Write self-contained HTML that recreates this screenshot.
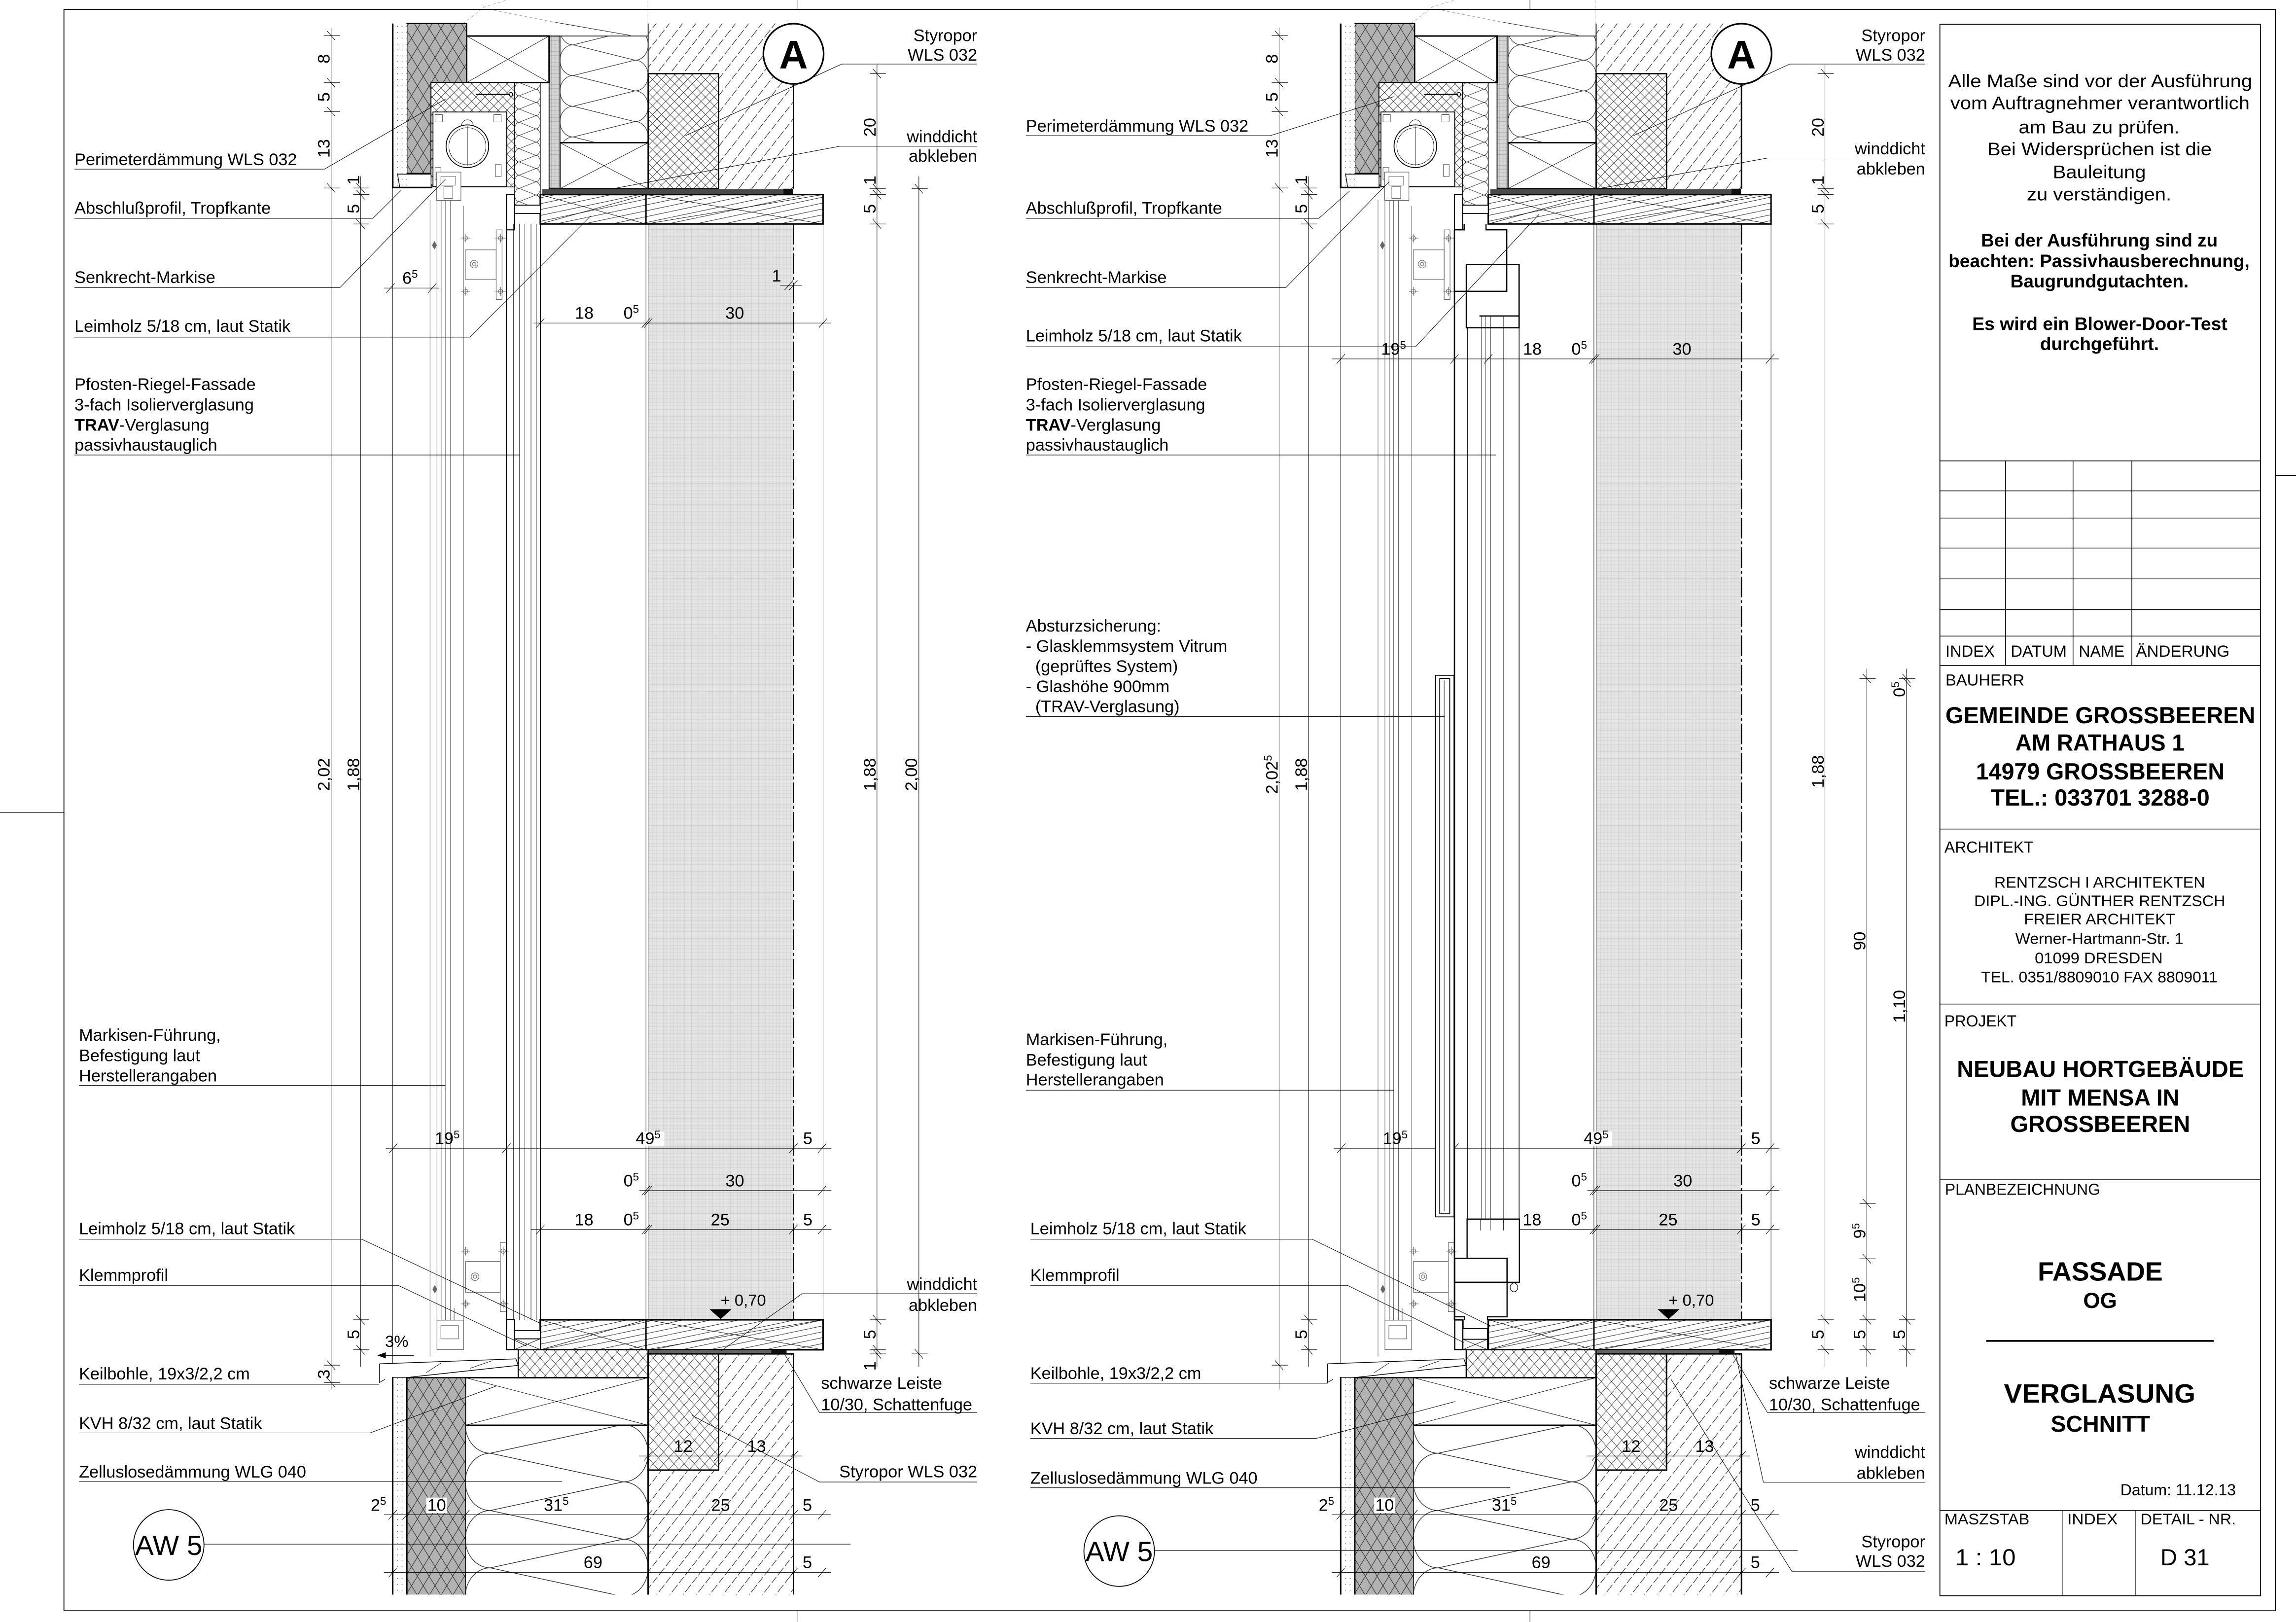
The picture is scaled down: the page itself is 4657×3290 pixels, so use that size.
<!DOCTYPE html>
<html><head><meta charset="utf-8"><style>
html,body{margin:0;padding:0;background:#fff;}
svg{display:block;}
text{font-family:"Liberation Sans",Arial,sans-serif;fill:#000;}
</style></head><body>
<svg xmlns="http://www.w3.org/2000/svg" xmlns:xlink="http://www.w3.org/1999/xlink" width="4657" height="3290" viewBox="0 0 1562.2 1103.65" preserveAspectRatio="none">
<defs>
<pattern id="conc" patternUnits="userSpaceOnUse" width="9" height="11.5"><path d="M-1,12.78L10,-1.28" stroke="#222" stroke-width="0.4" stroke-dasharray="5 1.6" fill="none"/></pattern>
<pattern id="xh" patternUnits="userSpaceOnUse" width="6" height="6"><rect width="6" height="6" fill="#fff"/><path d="M0,0L6,6M6,0L0,6" stroke="#222" stroke-width="0.3"/></pattern>
<pattern id="xh2" patternUnits="userSpaceOnUse" width="7" height="8"><rect width="7" height="8" fill="#fff"/><path d="M0,0L7,8M7,0L0,8" stroke="#222" stroke-width="0.3"/></pattern>
<pattern id="gb" patternUnits="userSpaceOnUse" width="8" height="13"><rect width="8" height="13" fill="#b2b2b2"/><path d="M0,0L8,13M8,0L0,13" stroke="#222" stroke-width="0.35"/></pattern>
<pattern id="dots" patternUnits="userSpaceOnUse" width="3.2" height="4"><rect width="3.2" height="4" fill="#fff"/><circle cx="1.6" cy="2" r="0.3" fill="#444"/></pattern>
<pattern id="wood" patternUnits="userSpaceOnUse" width="19" height="4"><rect width="19" height="4" fill="#fff"/><path d="M-1,4.21L20,-0.21" stroke="#111" stroke-width="0.3"/></pattern>
<pattern id="gl" patternUnits="userSpaceOnUse" width="2.4" height="2.4"><rect width="2.4" height="2.4" fill="#e4e4e4"/><path d="M0,0.1H2.4M0.1,0V2.4" stroke="#cdcdcd" stroke-width="0.25"/></pattern>
<pattern id="grid" patternUnits="userSpaceOnUse" width="2.5" height="2.5"><rect width="2.5" height="2.5" fill="#d4d4d4"/><path d="M0,0.1H2.5M0.1,0V2.5" stroke="#999" stroke-width="0.25"/></pattern>
<pattern id="ins1" patternUnits="userSpaceOnUse" x="381" y="9.6" width="60" height="20.9"><path d="M9,0L51,10.45L9,20.9M9,0A9,10.45 0 0 0 9,20.9M51,10.45A9,10.45 0 0 1 60,20.9M60,0A9,10.45 0 0 1 51,10.45" fill="none" stroke="#111" stroke-width="0.35"/></pattern>
<pattern id="ins2" patternUnits="userSpaceOnUse" x="316.6" y="949.8" width="124.4" height="39"><path d="M17,0L107.4,19.5L17,39M17,0A17,19.5 0 0 0 17,39M107.4,19.5A17,19.5 0 0 1 124.4,39M124.4,0A17,19.5 0 0 1 107.4,19.5" fill="none" stroke="#111" stroke-width="0.4"/></pattern>
<pattern id="ins3" patternUnits="userSpaceOnUse" x="350.2" y="56.2" width="17.4" height="9"><path d="M3,0L14.4,4.5L3,9M3,0A3,4.5 0 0 0 3,9M14.4,4.5A3,4.5 0 0 1 17.4,9M17.4,0A3,4.5 0 0 1 14.4,4.5" fill="none" stroke="#111" stroke-width="0.3"/></pattern>
</defs>
<rect x="0" y="0" width="1562.2" height="1103.65" fill="#fff"/>

<!-- COMMON DETAIL GEOMETRY (left coordinates) -->
<g id="cm" fill="none" stroke="#000">
 <rect x="441" y="152.4" width="98.9" height="745.6" fill="url(#gl)" stroke="none"/>
 <path d="M440.3,0V16M315,16L330,4.5L345,0M332.8,6.4L378,15.2" stroke="#999" stroke-width="0.3" stroke-dasharray="2 1.5"/>
 <path d="M378,15.2L428.9,24.1" stroke-width="0.3"/>
 <rect x="441" y="16" width="98.9" height="112.4" fill="url(#conc)" stroke="none"/>
 <rect x="441" y="50.1" width="47.9" height="78.3" fill="url(#xh)" stroke-width="0.9"/>
 <path d="M539.9,57V128.4" stroke-width="1"/>
 <path d="M441,16V128.4" stroke-width="0.6"/>
 <rect x="381" y="24.5" width="60" height="72.6" fill="url(#ins1)" stroke-width="0.5"/>
 <rect x="381" y="97.1" width="60" height="31.3" fill="#fff" stroke-width="0.9"/>
 <path d="M381,97.1L441,128.4M441,97.1L381,128.4" stroke-width="0.3"/>
 <rect x="373.6" y="24.5" width="7.4" height="103.9" fill="url(#grid)" stroke-width="0.6"/>
 <rect x="317.5" y="24.5" width="56.1" height="31.7" fill="#fff" stroke-width="1"/>
 <path d="M317.5,24.5L373.6,56.2M373.6,24.5L317.5,56.2" stroke-width="0.3"/>
 <path d="M276.8,16H317.5V56.2H293.3V118H276.8Z" fill="url(#gb)" stroke-width="0.8"/>
 <rect x="267.2" y="16" width="9.6" height="111.6" fill="url(#dots)" stroke="none"/>
 <path d="M270.5,118.5H293.3M270.5,118.5L272,127.6" stroke-width="0.5"/>
 <path d="M267.2,16V127.6H294" stroke-width="1.1"/>
 <rect x="293.3" y="56.2" width="56.9" height="71" fill="url(#xh)" stroke-width="0.5"/>
 <rect x="294.6" y="76.2" width="50.2" height="50.8" fill="#fff" stroke-width="0.6"/>
 <circle cx="318" cy="99.5" r="14.5" stroke-width="0.6"/>
 <circle cx="318" cy="99.5" r="12.6" stroke-width="0.3"/>
 <path d="M314,85.5A4,4 0 0 1 322,85.5M318,86V113" stroke-width="0.3"/>
 <path d="M296,78h5v5h-5zM336,78h5v5h-5zM296,114h4v8h-4zM337,112h4v8h-4z" stroke="#444" stroke-width="0.35"/>
 <path d="M324,64.2H347" stroke-width="0.8"/>
 <circle cx="347.5" cy="64.2" r="1.3" stroke-width="0.5"/>
 <rect x="350.2" y="56.2" width="17.4" height="83.4" fill="url(#ins3)" stroke-width="0.5"/>
 <rect x="369" y="128.7" width="164" height="3.4" fill="#4a4a4a" stroke="none"/>
 <rect x="533" y="128.4" width="6.5" height="4" fill="#111" stroke="none"/>
 <rect x="367.6" y="132.4" width="192.4" height="20" fill="url(#wood)" stroke-width="1"/>
 <path d="M439.5,132.4V152.4" stroke-width="1"/>
 <path d="M367.6,132.4L439.5,152.4M367.6,152.4L439.5,132.4M439.5,132.4L560,152.4M439.5,152.4L560,132.4" stroke-width="0.3"/>
 <rect x="344.6" y="132.4" width="5.6" height="24" fill="#fff" stroke-width="0.7"/>
 <rect x="350.2" y="139.6" width="17.4" height="5.6" fill="#fff" stroke-width="0.6"/>
 <path d="M539.9,152.4V898" stroke-width="0.9" stroke-dasharray="14 2 2 2"/>
 <path d="M539.9,16V57" stroke-width="0.3" stroke-dasharray="3 2"/>
 <path d="M439.5,152.4V898M441,152.4V898M560,152.4V898M267.2,127.6V928.9" stroke-width="0.3"/>
 <path d="M292.6,136V923M297.3,128V898M300.6,128V898M303.2,128V898M306.5,128V898M315.4,140V918" stroke="#555" stroke-width="0.3"/>
 <rect x="297.1" y="117.1" width="16.5" height="19.3" stroke="#666" stroke-width="0.4" fill="#fff"/>
 <path d="M300,120h10v6h-10zM302,127h6v8h-6z" stroke="#666" stroke-width="0.35"/>
 <g stroke="#666" stroke-width="0.4">
  <rect x="337.6" y="156.4" width="4" height="47.4"/>
  <rect x="316.6" y="170" width="21" height="20"/>
  <circle cx="322.6" cy="179.7" r="2.6"/><circle cx="322.6" cy="179.7" r="1.2"/>
  <path d="M313.6,162H320M316.6,159V165M313.6,198.2H320M316.6,195.2V201.2M337,162H344.5M340.6,159V165M337,198.2H344.5M340.6,195.2V201.2"/>
  <circle cx="316.6" cy="162" r="1.5"/><circle cx="316.6" cy="198.2" r="1.5"/><circle cx="340.6" cy="162" r="1.5"/><circle cx="340.6" cy="198.2" r="1.5"/>
  <path d="M295.6,164.4L297,166.9L295.6,169.4L294.2,166.9Z" fill="#666"/>
  <rect x="340.4" y="845.4" width="4" height="47.1"/>
  <rect x="316.8" y="858.3" width="23.6" height="21.2"/>
  <circle cx="323.2" cy="868.7" r="2.6"/><circle cx="323.2" cy="868.7" r="1.2"/>
  <path d="M313.8,851.3H320M316.8,848.3V854.3M313.8,887.2H320M316.8,884.2V890.2M339,851.3H346M342.4,848.3V854.3M339,887.2H346M342.4,884.2V890.2"/>
  <circle cx="316.8" cy="851.3" r="1.5"/><circle cx="316.8" cy="887.2" r="1.5"/><circle cx="342.4" cy="851.3" r="1.5"/><circle cx="342.4" cy="887.2" r="1.5"/>
  <path d="M295.9,874.7L297.3,877.2L295.9,879.7L294.5,877.2Z" fill="#666"/>
  <rect x="297.3" y="898.3" width="18.1" height="20"/>
  <rect x="300" y="902" width="12" height="9"/>
  <path d="M303,890V898M309,890V898"/>
 </g>
 <rect x="367.6" y="898" width="192.4" height="20.4" fill="url(#wood)" stroke-width="1.1"/>
 <path d="M439.5,898V918.4" stroke-width="1"/>
 <path d="M367.6,898L439.5,918.4M367.6,918.4L439.5,898M439.5,898L560,918.4M439.5,918.4L560,898" stroke-width="0.3"/>
 <path d="M371,920.3H441" stroke-width="1" stroke-dasharray="3 1.5"/>
 <rect x="441" y="918.6" width="84" height="2.4" fill="#666" stroke="none"/>
 <rect x="524.8" y="918.4" width="10.4" height="2.8" fill="#111" stroke="none"/>
 <rect x="352.6" y="918.4" width="88.4" height="19" fill="url(#xh2)" stroke-width="0.8"/>
 <rect x="316.6" y="937.4" width="124.4" height="32.4" fill="#fff" stroke-width="1"/>
 <path d="M316.6,937.4L441,969.8M441,937.4L316.6,969.8" stroke-width="0.3"/>
 <rect x="316.6" y="969.8" width="124.4" height="115.2" fill="url(#ins2)" stroke="none"/>
 <path d="M316.6,969.8V1085M441,969.8V1085M316.6,969.8H441" stroke-width="0.9"/>
 <rect x="276.8" y="937.4" width="39.8" height="147.6" fill="url(#gb)" stroke="none"/>
 <path d="M276.8,937.4H316.6" stroke-width="0.8"/>
 <rect x="267.2" y="928.9" width="9.6" height="156.1" fill="url(#dots)" stroke="none"/>
 <path d="M267.2,1085V928.9H276.8V1085" stroke-width="1"/>
 <rect x="441" y="921.2" width="98.9" height="163.8" fill="url(#conc)" stroke="none"/>
 <path d="M441,1085V921.2H539.9V1085" stroke-width="1"/>
 <rect x="441" y="921.2" width="47.9" height="79.1" fill="url(#xh2)" stroke-width="1"/>
 <path d="M258.2,928L351,924.6L352.6,929L277.7,937.2H267.2" fill="#fff" stroke-width="0.5"/>
 <path d="M290,934L300,927.5M320,931L335,925.8" stroke-width="0.3"/>
 <path d="M258.2,928V940.7L262,938.5" stroke-width="0.4"/>
 <circle cx="539.9" cy="36.6" r="20.5" fill="#fff" stroke-width="1.1"/>
 <path d="M482.8,890.8H497.8L490.3,897.6Z" fill="#000" stroke="none"/>
 <rect x="430" y="770" width="22" height="10" fill="#fff" stroke="none"/>
 <rect x="290" y="1019" width="14" height="10.5" fill="#fff" stroke="none"/>
 <!-- leaders common -->
 <path d="M664.9,43.6H572.7L466.4,92.3M664.9,961.2H557.6L533.7,921.2" stroke-width="0.35"/>
 <!-- common dims -->
 <g stroke-width="0.35">
  <path d="M225.3,18.8V945.5M222.5,21L228.1,27.4M220.3,24.2H231.3M222.5,53.1L228.1,59.5M220.3,56.3H231.3M222.5,72.7L228.1,79.1M220.3,75.9H231.3M222.5,124.7L228.1,131.1M220.3,127.9H231.3M222.5,925.7L228.1,932.1M220.3,928.9H231.3"/>
  <path d="M245.3,120V930M242.5,124.7L248.1,131.1M240.3,127.9H251.3M242.5,129.2L248.1,135.6M240.3,132.4H251.3M242.5,149.2L248.1,155.6M240.3,152.4H251.3M242.5,894.8L248.1,901.2M240.3,898H251.3M242.5,915.2L248.1,921.6M240.3,918.4H251.3"/>
  <path d="M596.7,44V930M593.9,46.9L599.5,53.3M591.7,50.1H602.7M593.9,125.2L599.5,131.6M591.7,128.4H602.7M593.9,129.2L599.5,135.6M591.7,132.4H602.7M593.9,149.2L599.5,155.6M591.7,152.4H602.7M593.9,894.8L599.5,901.2M591.7,898H602.7M593.9,915.2L599.5,921.6M591.7,918.4H602.7"/>
  <path d="M262.5,781.3H565.7M264.8,784.5L270.4,778.1M341.8,784.5L347.4,778.1M537,784.5L542.6,778.1M556.5,784.5L562.1,778.1"/>
  <path d="M435,810.1H565.7M436.7,813.3L442.3,806.9M438.2,813.3L443.8,806.9M556.5,813.3L562.1,806.9"/>
  <path d="M361.3,836.6H565.7M364.9,839.8L370.5,833.4M436.7,839.8L442.3,833.4M438.2,839.8L443.8,833.4M537,839.8L542.6,833.4M556.5,839.8L562.1,833.4"/>
  <path d="M434.9,990.7H545.7M438.2,993.9L443.8,987.5M486.1,993.9L491.7,987.5M537.1,993.9L542.7,987.5"/>
  <path d="M261.2,1030.7H565.3M264.4,1033.9L270,1027.5M274,1033.9L279.6,1027.5M313.8,1033.9L319.4,1027.5M438.2,1033.9L443.8,1027.5M537.1,1033.9L542.7,1027.5M556.5,1033.9L562.1,1027.5"/>
  <path d="M261.2,1070H565.3M264.4,1073.2L270,1066.8M537.1,1073.2L542.7,1066.8M556.5,1073.2L562.1,1066.8"/>
 </g>
</g>
<use href="#cm" xlink:href="#cm" transform="translate(645,0)"/>

<!-- LEFT ONLY GEOMETRY -->
<g fill="none" stroke="#000">
 <path d="M349.3,152.4V898M353.5,152.4V898M357.1,152.4V898M361.3,152.4V898M364.9,152.4V898" stroke-width="0.3"/>
 <path d="M344.6,156.4V898M367.7,152.4V898" stroke-width="0.6"/>
 <rect x="344.6" y="897.8" width="5.4" height="20.5" fill="#fff" stroke-width="0.8"/>
 <rect x="350" y="905.4" width="17.6" height="5.6" fill="#fff" stroke-width="0.6"/>
 <rect x="350" y="911" width="17.6" height="7.3" fill="#fff" stroke-width="0.6"/>
 <path d="M350,911L367.6,918.3M367.6,911L350,918.3" stroke-width="0.3"/>
 <g stroke-width="0.35">
  <path d="M222.5,937.5L228.1,943.9M220.3,940.7H231.3"/>
  <path d="M593.9,918L599.5,924.4M591.7,921.2H602.7"/>
  <path d="M625.2,120V930M622.4,125.2L628,131.6M620.2,128.4H631.2M622.4,918L628,924.4M620.2,921.2H631.2"/>
  <path d="M261.2,196H298.6M262.9,199.2L268.5,192.8M291.3,199.2L296.9,192.8"/>
  <path d="M530.8,194.1H545.7M533.9,197.3L539.5,190.9M537,197.3L542.6,190.9"/>
  <path d="M363,219.8H565.2M364.8,223L370.4,216.6M436.7,223L442.3,216.6M438.2,223L443.8,216.6M557.2,223L562.8,216.6"/>
  <path d="M50.7,115.1H220.8L303.1,67.4M50.7,148.6H253.7L273.2,129.2M50.7,195.7H231.3L303.1,121.9M50.7,229.4H319.6L402,146.8M50.7,309.6H354"/>
  <path d="M53.7,738.5H303M53.7,843.2H246.2L368.2,900.7M53.7,874.6H270.9L358.5,916M53.7,941.9H257.8M53.7,975H251.8L337.6,943.1M53.7,1008.1H382.5M138.8,1050.7H578.7"/>
  <path d="M664.9,99.5H571.5L417,128.4M664.9,880.3H545.7L490.4,919.3M664.9,1008.4H557.6L470.8,963.1"/>
 </g>
 <path d="M281.6,922.2H261" stroke-width="0.5"/>
 <path d="M256.7,922.2L262.5,920.1L262.5,924.3Z" fill="#000" stroke="none"/>
 <circle cx="114.8" cy="1051.2" r="24" stroke-width="0.6"/>
</g>

<!-- RIGHT ONLY GEOMETRY -->
<g fill="none" stroke="#000">
 <path d="M989.6,156.4V898" stroke-width="0.9"/>
 <path d="M996.2,152.4V156.4H989.6V198.2H1025.2V156.4H1011.1V152.4" fill="#fff" stroke-width="0.8"/>
 <rect x="997.7" y="180" width="35.9" height="43" stroke-width="0.9"/>
 <path d="M1008.1,215V837M1010.5,215V837M1014.1,215V837M1023.1,215V837" stroke-width="0.3"/>
 <path d="M998.6,223V829.5M1033.6,223V829.5" stroke-width="0.5"/>
 <path d="M1006.6,215H1033.6M1007.3,837.2H1033.8" stroke-width="0.9"/>
 <rect x="976.7" y="459.5" width="12.6" height="368.5" fill="#fff" stroke-width="0.6"/>
 <rect x="979.6" y="461.6" width="6.8" height="364.3" stroke-width="0.6"/>
 <path d="M982.6,463V824" stroke-width="0.3"/>
 <rect x="998.2" y="829.5" width="35.6" height="43" fill="#fff" stroke-width="0.8"/>
 <path d="M1007.3,829.5V837.2M1014,829.5V837.2M1023,829.5V837.2" stroke-width="0.3"/>
 <rect x="989.8" y="856.2" width="35.6" height="16.3" fill="#fff" stroke-width="0.9"/>
 <path d="M989.8,872.5V896H996.4V898M1025.4,872.5V896H1012.1V898" stroke-width="0.8"/>
 <ellipse cx="1030.1" cy="876" rx="2.6" ry="3" stroke-width="0.4"/>
 <rect x="989.8" y="898.1" width="5.6" height="20.2" fill="#fff" stroke-width="0.9"/>
 <rect x="995.4" y="904" width="16.7" height="7.3" fill="#fff" stroke-width="0.6"/>
 <rect x="995.4" y="911.3" width="16.7" height="7" fill="#fff" stroke-width="0.6"/>
 <path d="M995.4,911.3L1012.1,918.3M1012.1,911.3L995.4,918.3" stroke-width="0.3"/>
 <g stroke-width="0.35">
  <path d="M906.3,244.2H1210.3M909.5,247.4L915.1,241M986.8,247.4L992.4,241M1009.8,247.4L1015.4,241M1081.2,247.4L1086.8,241M1082.6,247.4L1088.2,241M1201.5,247.4L1207.1,241"/>
  <path d="M1270.2,455V930M1267.4,458.5L1273,464.9M1265.2,461.7H1276.2M1267.4,815.7L1273,822.1M1265.2,818.9H1276.2M1267.4,853.3L1273,859.7M1265.2,856.5H1276.2M1267.4,894.8L1273,901.2M1265.2,898H1276.2M1267.4,915.2L1273,921.6M1265.2,918.4H1276.2"/>
  <path d="M1297.2,455V930M1294.4,458.5L1300,464.9M1294.4,460.8L1300,467.2M1292.2,461.7H1303.2M1294.4,894.8L1300,901.2M1292.2,898H1303.2M1294.4,915.2L1300,921.6M1292.2,918.4H1303.2"/>
  <path d="M698,92.3H864.4L948.2,65.8M698,148.6H897.3L918.3,130M698,195.7H874.9L945.3,123.5M698,235.9H963.2L1047,146M698,309.6H1018M698,487.6H983M698,741.8H948.3"/>
  <path d="M701,843.2H892.8L1014.1,902.2M701,874.6H916.8L996.2,913.6M701,941.2H903.3M701,978.7H895.8L990.2,953.6M701,1012.3H1027.6M785.5,1054.9H1223.2"/>
  <path d="M1309.9,107.5H1202.8L1087.5,128.4M1309.9,1008.5H1199.8L1181,921.5M1309.9,1069.4H1219.3L1136.9,938.4"/>
 </g>
 <circle cx="761.5" cy="1055.4" r="24" stroke-width="0.6"/>
</g>

<!-- FRAME -->
<g fill="none" stroke="#000">
 <rect x="43.5" y="6.4" width="1504.7" height="1089.6" stroke-width="0.6"/>
 <path d="M542.3,0V6.4M1041,0V6.4M542.3,1096V1103.65M1041,1096V1103.65M0,553H43.5M1548.2,323.5H1562.2" stroke-width="0.4"/>
 <rect x="1319.9" y="16.5" width="218.2" height="1069.3" stroke-width="0.6"/>
 <path d="M1319.9,313.6H1538.1M1319.9,334H1538.1M1319.9,352.5H1538.1M1319.9,372.9H1538.1M1319.9,393.9H1538.1M1319.9,414.8H1538.1M1319.9,432.8H1538.1M1319.9,452.8H1538.1M1319.9,564.1H1538.1M1319.9,683.2H1538.1M1319.9,802.4H1538.1M1319.9,1027.7H1538.1" stroke-width="0.5"/>
 <path d="M1364.5,313.6V452.8M1410.5,313.6V452.8M1450.5,313.6V452.8M1403.1,1027.7V1085.8M1452.8,1027.7V1085.8" stroke-width="0.5"/>
 <path d="M1351.4,912.4H1506.2" stroke-width="1.2"/>
</g>

<!-- TEXT -->
<g font-size="11.5">
 <text x="50.7" y="112.3">Perimeterdämmung WLS 032</text>
 <text x="50.7" y="145.5">Abschlußprofil, Tropfkante</text>
 <text x="50.7" y="192.5">Senkrecht-Markise</text>
 <text x="50.7" y="225.7">Leimholz 5/18 cm, laut Statik</text>
 <text x="50.7" y="265.3">Pfosten-Riegel-Fassade</text>
 <text x="50.7" y="279.2">3-fach Isolierverglasung</text>
 <text x="50.7" y="293.1"><tspan font-weight="bold">TRAV</tspan>-Verglasung</text>
 <text x="50.7" y="306.6">passivhaustauglich</text>
 <text x="53.7" y="708.2">Markisen-Führung,</text>
 <text x="53.7" y="722">Befestigung laut</text>
 <text x="53.7" y="735.8">Herstellerangaben</text>
 <text x="53.7" y="839.8">Leimholz 5/18 cm, laut Statik</text>
 <text x="53.7" y="871.5">Klemmprofil</text>
 <text x="53.7" y="938.6">Keilbohle, 19x3/2,2 cm</text>
 <text x="53.7" y="972.3">KVH 8/32 cm, laut Statik</text>
 <text x="53.7" y="1005.4">Zelluslosedämmung WLG 040</text>
 <text x="664.9" y="28" text-anchor="end">Styropor</text>
 <text x="664.9" y="41.2" text-anchor="end">WLS 032</text>
 <text x="664.9" y="96.7" text-anchor="end">winddicht</text>
 <text x="664.9" y="110" text-anchor="end">abkleben</text>
 <text x="664.9" y="877.6" text-anchor="end">winddicht</text>
 <text x="664.9" y="891.9" text-anchor="end">abkleben</text>
 <text x="558.6" y="945">schwarze Leiste</text>
 <text x="558.6" y="959.5">10/30, Schattenfuge</text>
 <text x="664.9" y="1005.2" text-anchor="end">Styropor WLS 032</text>

 <text x="698" y="89.5">Perimeterdämmung WLS 032</text>
 <text x="698" y="145.5">Abschlußprofil, Tropfkante</text>
 <text x="698" y="192.5">Senkrecht-Markise</text>
 <text x="698" y="232.3">Leimholz 5/18 cm, laut Statik</text>
 <text x="698" y="265.3">Pfosten-Riegel-Fassade</text>
 <text x="698" y="279.2">3-fach Isolierverglasung</text>
 <text x="698" y="293.1"><tspan font-weight="bold">TRAV</tspan>-Verglasung</text>
 <text x="698" y="306.6">passivhaustauglich</text>
 <text x="698" y="429.7">Absturzsicherung:</text>
 <text x="698" y="443.4">- Glasklemmsystem Vitrum</text>
 <text x="704.4" y="457.3">(geprüftes System)</text>
 <text x="698" y="470.9">- Glashöhe 900mm</text>
 <text x="704.4" y="484.5">(TRAV-Verglasung)</text>
 <text x="698" y="711.2">Markisen-Führung,</text>
 <text x="698" y="725.1">Befestigung laut</text>
 <text x="698" y="738.5">Herstellerangaben</text>
 <text x="701" y="839.8">Leimholz 5/18 cm, laut Statik</text>
 <text x="701" y="871.5">Klemmprofil</text>
 <text x="701" y="938.3">Keilbohle, 19x3/2,2 cm</text>
 <text x="701" y="975.9">KVH 8/32 cm, laut Statik</text>
 <text x="701" y="1009.5">Zelluslosedämmung WLG 040</text>
 <text x="1309.9" y="28" text-anchor="end">Styropor</text>
 <text x="1309.9" y="41.2" text-anchor="end">WLS 032</text>
 <text x="1309.9" y="105" text-anchor="end">winddicht</text>
 <text x="1309.9" y="118.7" text-anchor="end">abkleben</text>
 <text x="1203.6" y="945">schwarze Leiste</text>
 <text x="1203.6" y="959.5">10/30, Schattenfuge</text>
 <text x="1309.9" y="991.9" text-anchor="end">winddicht</text>
 <text x="1309.9" y="1006.2" text-anchor="end">abkleben</text>
 <text x="1309.9" y="1052.8" text-anchor="end">Styropor</text>
 <text x="1309.9" y="1066.1" text-anchor="end">WLS 032</text>
</g>

<g font-size="27" font-weight="bold" text-anchor="middle">
 <text x="539.9" y="46.5">A</text>
 <text x="1184.9" y="46.5">A</text>
</g>
<g font-size="19" text-anchor="middle">
 <text x="114.8" y="1058">AW 5</text>
 <text x="761.5" y="1062.2">AW 5</text>
</g>

<!-- dimension texts -->
<g font-size="11.5" text-anchor="middle">
 <text transform="translate(224.3,40) rotate(-90)">8</text>
 <text transform="translate(224.3,66) rotate(-90)">5</text>
 <text transform="translate(224.3,101) rotate(-90)">13</text>
 <text transform="translate(224.3,527) rotate(-90)">2,02</text>
 <text transform="translate(224.3,935) rotate(-90)">3</text>
 <text transform="translate(244.3,122.5) rotate(-90)">1</text>
 <text transform="translate(244.3,142) rotate(-90)">5</text>
 <text transform="translate(244.3,527) rotate(-90)">1,88</text>
 <text transform="translate(244.3,908) rotate(-90)">5</text>
 <text transform="translate(595.7,86.6) rotate(-90)">20</text>
 <text transform="translate(595.7,122.7) rotate(-90)">1</text>
 <text transform="translate(595.7,142) rotate(-90)">5</text>
 <text transform="translate(595.7,527) rotate(-90)">1,88</text>
 <text transform="translate(595.7,908) rotate(-90)">5</text>
 <text transform="translate(595.7,929.5) rotate(-90)">1</text>
 <text transform="translate(624,527) rotate(-90)">2,00</text>

 <text transform="translate(869.3,40) rotate(-90)">8</text>
 <text transform="translate(869.3,66) rotate(-90)">5</text>
 <text transform="translate(869.3,101) rotate(-90)">13</text>
 <text transform="translate(869.3,527) rotate(-90)">2,02<tspan font-size="7.5" dy="-4">5</tspan></text>
 <text transform="translate(889.3,122.5) rotate(-90)">1</text>
 <text transform="translate(889.3,142) rotate(-90)">5</text>
 <text transform="translate(889.3,527) rotate(-90)">1,88</text>
 <text transform="translate(889.3,908) rotate(-90)">5</text>
 <text transform="translate(1240.8,86.6) rotate(-90)">20</text>
 <text transform="translate(1240.8,122.7) rotate(-90)">1</text>
 <text transform="translate(1240.8,142) rotate(-90)">5</text>
 <text transform="translate(1240.8,525) rotate(-90)">1,88</text>
 <text transform="translate(1240.8,908) rotate(-90)">5</text>
 <text transform="translate(1269.2,640.3) rotate(-90)">90</text>
 <text transform="translate(1269.2,837.5) rotate(-90)">9<tspan font-size="7.5" dy="-4">5</tspan></text>
 <text transform="translate(1269.2,877.5) rotate(-90)">10<tspan font-size="7.5" dy="-4">5</tspan></text>
 <text transform="translate(1269.2,908) rotate(-90)">5</text>
 <text transform="translate(1296.2,469) rotate(-90)">0<tspan font-size="7.5" dy="-4">5</tspan></text>
 <text transform="translate(1296.2,684.8) rotate(-90)">1,10</text>
 <text transform="translate(1296.2,908) rotate(-90)">5</text>

 <text x="279" y="193">6<tspan font-size="7.5" dy="-4">5</tspan></text>
 <text x="528.4" y="191.5">1</text>
 <text x="397.5" y="216.8">18</text>
 <text x="429.5" y="216.8">0<tspan font-size="7.5" dy="-4">5</tspan></text>
 <text x="499.9" y="216.8">30</text>
 <text x="304.3" y="778.5">19<tspan font-size="7.5" dy="-4">5</tspan></text>
 <text x="441" y="778.5">49<tspan font-size="7.5" dy="-4">5</tspan></text>
 <text x="549.6" y="778.5">5</text>
 <text x="429.5" y="807.2">0<tspan font-size="7.5" dy="-4">5</tspan></text>
 <text x="500" y="807.2">30</text>
 <text x="397.4" y="833.8">18</text>
 <text x="429.5" y="833.8">0<tspan font-size="7.5" dy="-4">5</tspan></text>
 <text x="490" y="833.8">25</text>
 <text x="549.6" y="833.8">5</text>
 <text x="464.8" y="988">12</text>
 <text x="514.8" y="988">13</text>
 <text x="257.5" y="1028">2<tspan font-size="7.5" dy="-4">5</tspan></text>
 <text x="297.1" y="1028">10</text>
 <text x="378.5" y="1028">31<tspan font-size="7.5" dy="-4">5</tspan></text>
 <text x="490.3" y="1028">25</text>
 <text x="549.3" y="1028">5</text>
 <text x="403.5" y="1067">69</text>
 <text x="549.3" y="1067">5</text>

 <text x="948.2" y="241.4">19<tspan font-size="7.5" dy="-4">5</tspan></text>
 <text x="1042.6" y="241.4">18</text>
 <text x="1074.5" y="241.4">0<tspan font-size="7.5" dy="-4">5</tspan></text>
 <text x="1144.4" y="241.4">30</text>
 <text x="949.3" y="778.5">19<tspan font-size="7.5" dy="-4">5</tspan></text>
 <text x="1086" y="778.5">49<tspan font-size="7.5" dy="-4">5</tspan></text>
 <text x="1194.6" y="778.5">5</text>
 <text x="1074.5" y="807.2">0<tspan font-size="7.5" dy="-4">5</tspan></text>
 <text x="1145" y="807.2">30</text>
 <text x="1042.4" y="833.8">18</text>
 <text x="1074.5" y="833.8">0<tspan font-size="7.5" dy="-4">5</tspan></text>
 <text x="1135" y="833.8">25</text>
 <text x="1194.6" y="833.8">5</text>
 <text x="1109.8" y="988">12</text>
 <text x="1159.8" y="988">13</text>
 <text x="902.5" y="1028">2<tspan font-size="7.5" dy="-4">5</tspan></text>
 <text x="942.1" y="1028">10</text>
 <text x="1023.5" y="1028">31<tspan font-size="7.5" dy="-4">5</tspan></text>
 <text x="1135.3" y="1028">25</text>
 <text x="1194.3" y="1028">5</text>
 <text x="1048.5" y="1067">69</text>
 <text x="1194.3" y="1067">5</text>
</g>
<g font-size="11">
 <text x="490.3" y="888.4">+ 0,70</text>
 <text x="1135.3" y="888.4">+ 0,70</text>
 <text x="262" y="916.5">3%</text>
</g>

<!-- TITLE BLOCK TEXT -->
<g text-anchor="middle" font-size="12.5">
 <text x="1429" y="59.3" textLength="206.9" lengthAdjust="spacingAndGlyphs">Alle Maße sind vor der Ausführung</text>
 <text x="1428.8" y="74.3" textLength="203.7" lengthAdjust="spacingAndGlyphs">vom Auftragnehmer verantwortlich</text>
 <text x="1428.2" y="90.8" textLength="109.4" lengthAdjust="spacingAndGlyphs">am Bau zu prüfen.</text>
 <text x="1428.5" y="105.7" textLength="152.7" lengthAdjust="spacingAndGlyphs">Bei Widersprüchen ist die</text>
 <text x="1428.4" y="121.3" textLength="63.3" lengthAdjust="spacingAndGlyphs">Bauleitung</text>
 <text x="1428.2" y="136.3" textLength="98.3" lengthAdjust="spacingAndGlyphs">zu verständigen.</text>
 <g font-weight="bold">
  <text x="1428.4" y="167.7" textLength="161" lengthAdjust="spacingAndGlyphs">Bei der Ausführung sind zu</text>
  <text x="1428.2" y="181.8" textLength="204.8" lengthAdjust="spacingAndGlyphs">beachten: Passivhausberechnung,</text>
  <text x="1428.5" y="195.6" textLength="121.3" lengthAdjust="spacingAndGlyphs">Baugrundgutachten.</text>
  <text x="1428.7" y="224.6" textLength="173.6" lengthAdjust="spacingAndGlyphs">Es wird ein Blower-Door-Test</text>
  <text x="1428.5" y="238.1" textLength="80.9" lengthAdjust="spacingAndGlyphs">durchgeführt.</text>
 </g>
</g>
<g font-size="11">
 <text x="1323.7" y="446.8" textLength="33.5" lengthAdjust="spacingAndGlyphs">INDEX</text>
 <text x="1368.1" y="446.8" textLength="38.1" lengthAdjust="spacingAndGlyphs">DATUM</text>
 <text x="1414.4" y="446.8" textLength="31.1" lengthAdjust="spacingAndGlyphs">NAME</text>
 <text x="1453.3" y="446.8" textLength="63.7" lengthAdjust="spacingAndGlyphs">ÄNDERUNG</text>
 <text x="1323.7" y="466.5" textLength="53.7" lengthAdjust="spacingAndGlyphs">BAUHERR</text>
 <text x="1323" y="580.2" textLength="60.6" lengthAdjust="spacingAndGlyphs">ARCHITEKT</text>
 <text x="1323" y="698.5" textLength="49" lengthAdjust="spacingAndGlyphs">PROJEKT</text>
 <text x="1323.3" y="813" textLength="105.7" lengthAdjust="spacingAndGlyphs">PLANBEZEICHNUNG</text>
 <text x="1442.7" y="1017.5" textLength="78.6" lengthAdjust="spacingAndGlyphs">Datum: 11.12.13</text>
 <text x="1323" y="1037.3" textLength="57.8" lengthAdjust="spacingAndGlyphs" font-size="10.5">MASZSTAB</text>
 <text x="1406.6" y="1037.3" textLength="34.3" lengthAdjust="spacingAndGlyphs" font-size="10.5">INDEX</text>
 <text x="1456.4" y="1037.3" textLength="64.9" lengthAdjust="spacingAndGlyphs" font-size="10.5">DETAIL - NR.</text>
 <text x="1330.4" y="1065" textLength="41.1" lengthAdjust="spacingAndGlyphs" font-size="16">1 : 10</text>
 <text x="1469.9" y="1065" textLength="33.5" lengthAdjust="spacingAndGlyphs" font-size="16">D 31</text>
</g>
<g text-anchor="middle" font-weight="bold" font-size="16">
 <text x="1429.1" y="492.1" textLength="210.8" lengthAdjust="spacingAndGlyphs">GEMEINDE GROSSBEEREN</text>
 <text x="1428.8" y="510.8" textLength="115.1" lengthAdjust="spacingAndGlyphs">AM RATHAUS 1</text>
 <text x="1429" y="530.3" textLength="169.1" lengthAdjust="spacingAndGlyphs">14979 GROSSBEEREN</text>
 <text x="1428.9" y="548.1" textLength="149" lengthAdjust="spacingAndGlyphs">TEL.: 033701 3288-0</text>
 <text x="1429.1" y="732.8" textLength="195.2" lengthAdjust="spacingAndGlyphs">NEUBAU HORTGEBÄUDE</text>
 <text x="1429" y="752.3" textLength="107.8" lengthAdjust="spacingAndGlyphs">MIT MENSA IN</text>
 <text x="1429" y="770.2" textLength="122.4" lengthAdjust="spacingAndGlyphs">GROSSBEEREN</text>
 <text x="1429" y="871.3" textLength="85.1" lengthAdjust="spacingAndGlyphs" font-size="18">FASSADE</text>
 <text x="1428.9" y="889.9" textLength="23" lengthAdjust="spacingAndGlyphs" font-size="15">OG</text>
 <text x="1428.6" y="954.3" textLength="130.3" lengthAdjust="spacingAndGlyphs" font-size="18">VERGLASUNG</text>
 <text x="1429.1" y="974.2" textLength="67.6" lengthAdjust="spacingAndGlyphs" font-size="15.5">SCHNITT</text>
</g>
<g text-anchor="middle" font-size="10.5">
 <text x="1428.6" y="604" textLength="143.4" lengthAdjust="spacingAndGlyphs">RENTZSCH I ARCHITEKTEN</text>
 <text x="1428.6" y="616.5" textLength="170.8" lengthAdjust="spacingAndGlyphs">DIPL.-ING. GÜNTHER RENTZSCH</text>
 <text x="1428.6" y="628.9" textLength="103" lengthAdjust="spacingAndGlyphs">FREIER ARCHITEKT</text>
 <text x="1428.4" y="642.2" textLength="114.3" lengthAdjust="spacingAndGlyphs">Werner-Hartmann-Str. 1</text>
 <text x="1428" y="655.5" textLength="87.1" lengthAdjust="spacingAndGlyphs">01099 DRESDEN</text>
 <text x="1428.4" y="668.4" textLength="160.9" lengthAdjust="spacingAndGlyphs">TEL. 0351/8809010 FAX 8809011</text>
</g>
</svg>
</body></html>
